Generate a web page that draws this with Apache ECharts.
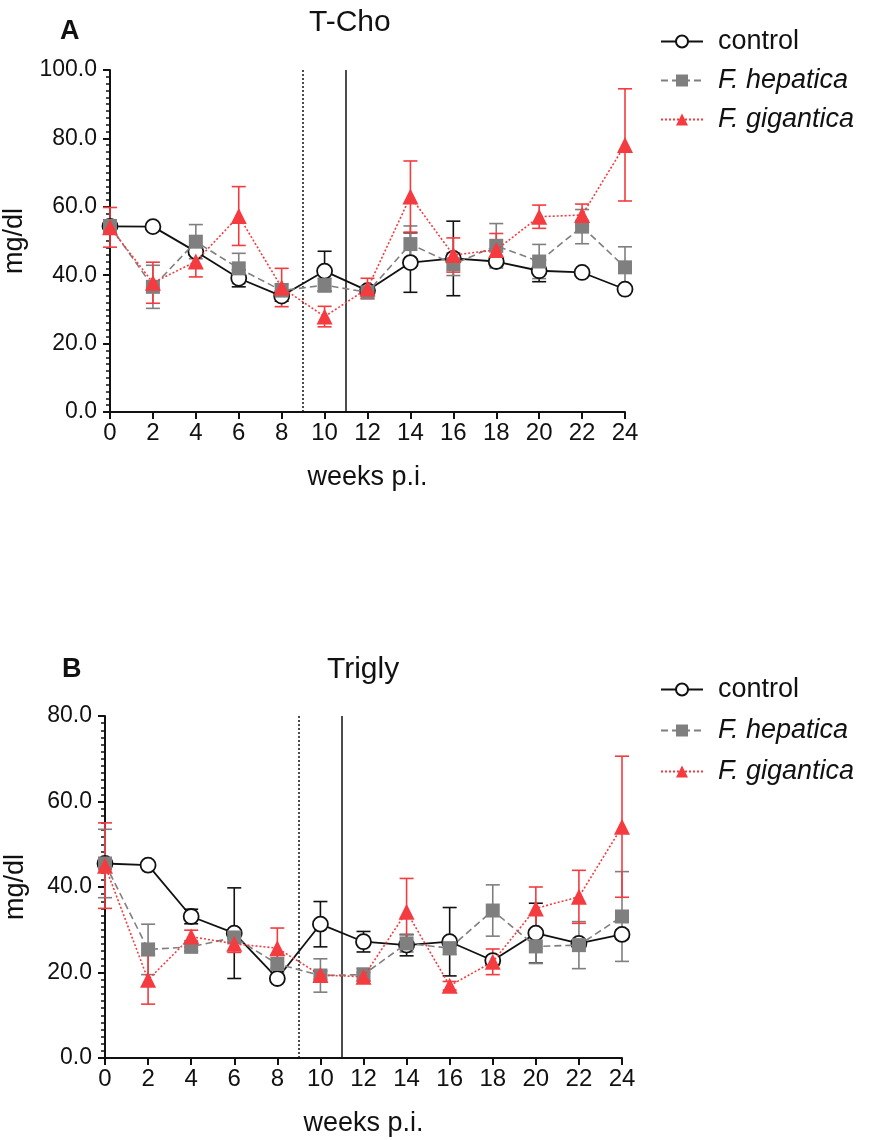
<!DOCTYPE html>
<html><head><meta charset="utf-8">
<script src="https://cdn.jsdelivr.net/npm/echarts@6/dist/echarts.min.js"></script>
<style>html,body{margin:0;padding:0;background:#fff}#c{width:869px;height:1140px}</style>
</head><body><div id="c"></div>
<script>
const weeks = [0,2,4,6,8,10,12,14,16,18,20,22,24];
const xTicks = [0,2,4,6,8,10,12,14,16,18,20,22,24];
const seriesNames = ['control','F. hepatica','F. gigantica'];

// Panel A: T-Cho (mg/dl)
const choControl    = [54.3,54.2,46.9,39.1,33.9,41.2,35.5,43.7,44.9,44.0,41.3,40.8,35.9];
const choControlSE  = [0.5,0.5,1.0,2.5,1.5,5.8,0.8,8.7,10.9,1.0,3.2,0.5,0.5];
const choHepatica   = [54.4,36.6,49.8,42.0,35.5,37.1,35.0,49.1,43.2,48.6,44.0,54.2,42.3];
const choHepaticaSE = [1.0,6.3,5.0,4.4,2.0,2.0,1.0,5.3,3.3,6.5,5.0,5.0,6.0];
const choGigantica  = [54.0,37.8,44.0,57.3,36.4,27.9,36.1,63.0,45.9,47.4,57.1,57.6,78.1];
const choGiganticaSE= [5.8,6.0,4.5,8.6,5.6,3.0,3.0,10.4,5.0,4.8,3.4,3.2,16.4];

// Panel B: Trigly (mg/dl)
const triControl    = [45.5,45.1,33.1,29.2,18.6,31.3,27.2,26.4,27.2,22.8,29.2,26.8,28.9];
const triControlSE  = [1.0,0.5,1.7,10.6,0.5,5.3,2.4,2.5,8.0,1.0,7.0,0.5,1.0];
const triHepatica   = [45.5,25.4,26.0,28.2,22.0,19.3,19.5,26.8,25.7,34.5,26.1,26.4,33.1];
const triHepaticaSE = [8.0,5.9,1.0,1.0,2.0,3.9,1.5,2.0,1.5,6.0,4.0,5.5,10.5];
const triGigantica  = [45.0,18.3,28.4,26.7,25.7,19.4,19.0,34.2,16.9,22.5,35.0,37.7,54.1];
const triGiganticaSE= [10.0,5.7,1.5,2.0,4.7,1.0,1.0,7.8,1.0,3.0,5.0,6.2,16.5];

const C_BLACK = '#111';
const C_GREY = '#7f7f7f';
const C_RED = '#f43b3f';
const FONT = 'Liberation Sans, Arial, sans-serif';

function pairs(vals){ return weeks.map((w,i)=>[w, vals[i]]); }
function errs(vals, se){ return weeks.map((w,i)=>[w, vals[i]-se[i], vals[i]+se[i]]); }

function errRender(color){
  return function(params, api){
    const x = api.value(0), lo = api.value(1), hi = api.value(2);
    const a = api.coord([x, lo]), b = api.coord([x, hi]);
    const w = 7;
    const st = {stroke: color, lineWidth: 1.6};
    return {type:'group', children:[
      {type:'line', shape:{x1:a[0],y1:a[1],x2:b[0],y2:b[1]}, style:st},
      {type:'line', shape:{x1:a[0]-w,y1:a[1],x2:a[0]+w,y2:a[1]}, style:st},
      {type:'line', shape:{x1:b[0]-w,y1:b[1],x2:b[0]+w,y2:b[1]}, style:st}
    ]};
  };
}

const styles = [
  {color:C_BLACK, symbol:'circle', size:15, line:{color:C_BLACK,width:1.8,type:'solid'}, item:{color:'#fff',borderColor:C_BLACK,borderWidth:1.8}},
  {color:C_GREY, symbol:'rect', size:14, line:{color:C_GREY,width:1.6,type:[7,4]}, item:{color:C_GREY,borderColor:C_GREY,borderWidth:0}},
  {color:C_RED, symbol:'triangle', size:16, line:{color:C_RED,width:1.6,type:[2,2]}, item:{color:C_RED,borderColor:C_RED,borderWidth:0}}
];

function buildSeries(gi, means, ses){
  const out = [];
  means.forEach((m, k)=>{
    const s = {
      type:'line', name: seriesNames[k], xAxisIndex:gi, yAxisIndex:gi,
      data: pairs(m), symbol: styles[k].symbol, symbolSize: styles[k].size,
      showAllSymbol:true, lineStyle: styles[k].line, itemStyle: styles[k].item,
      color: styles[k].color, z: 5 + k, animation:false
    };
    if (k === 0) {
      s.markLine = {
        silent:true, symbol:'none', label:{show:false}, animation:false,
        data:[
          {xAxis:9, lineStyle:{color:C_BLACK, type:[2,2], width:1.5}},
          {xAxis:11, lineStyle:{color:C_BLACK, type:'solid', width:1.5}}
        ]
      };
    }
    out.push(s);
  });
  means.forEach((m, k)=>{
    out.push({
      type:'custom', name: seriesNames[k] + ' SE', xAxisIndex:gi, yAxisIndex:gi,
      renderItem: errRender(styles[k].color), data: errs(m, ses[k]),
      encode:{x:0, y:[1,2]}, z: 2 + k, silent:true
    });
  });
  return out;
}

function xAxisDef(gi){
  return {
    type:'value', gridIndex:gi, min:0, max:24, interval:2,
    axisLine:{show:true, lineStyle:{color:C_BLACK, width:2}},
    axisTick:{show:true, inside:false, length:7, lineStyle:{color:C_BLACK, width:2}},
    axisLabel:{color:'#111', fontSize:24, fontFamily:FONT, margin:9,
      formatter: v => xTicks.includes(v) ? String(v) : ''},
    splitLine:{show:false},
    name:'weeks p.i.', nameLocation:'middle', nameGap:52,
    nameTextStyle:{color:'#111', fontSize:27, fontFamily:FONT}
  };
}
function yAxisDef(gi, max, minorSplit){
  return {
    type:'value', gridIndex:gi, min:0, max:max, interval:20,
    axisLine:{show:true, lineStyle:{color:C_BLACK, width:2}},
    axisTick:{show:true, inside:false, length:7, lineStyle:{color:C_BLACK, width:2}},
    minorTick:{show:true, splitNumber:minorSplit, length:4, lineStyle:{color:C_BLACK, width:1.5}},
    axisLabel:{color:'#111', fontSize:23, fontFamily:FONT, margin:13, formatter: v => v.toFixed(1)},
    splitLine:{show:false},
    name:'mg/dl', nameLocation:'middle', nameGap:76, nameRotate:90,
    nameTextStyle:{color:'#111', fontSize:27, fontFamily:FONT}
  };
}

function legendDef(top, gap){
  return {
    orient:'vertical', left:655, top:top, itemWidth:42, itemHeight:15, itemGap:gap,
    data: seriesNames.map(n => ({name:n})),
    formatter: n => n === 'control' ? n : '{i|' + n + '}',
    textStyle:{color:'#111', fontSize:27, fontFamily:FONT, padding:[0,0,0,10],
      rich:{i:{fontStyle:'italic', fontSize:27, fontFamily:FONT, color:'#111'}}},
    selectedMode:false
  };
}

const chart = echarts.init(document.getElementById('c'), null, {renderer:'canvas'});
chart.setOption({
  backgroundColor:'#fff',
  animation:false,
  grid:[
    {left:110, top:70, width:515, height:342, outerBoundsMode:'none', containLabel:false},
    {left:105, top:716, width:517, height:342, outerBoundsMode:'none', containLabel:false}
  ],
  xAxis:[xAxisDef(0), xAxisDef(1)],
  yAxis:[yAxisDef(0,100,10), yAxisDef(1,80,12)],
  legend:[legendDef(23, 12), legendDef(671, 14)],
  graphic:[
    {type:'text', left:60, top:18, style:{text:'A', font:'bold 27px Liberation Sans, Arial, sans-serif', fill:'#111'}},
    {type:'text', left:309, top:8, style:{text:'T-Cho', font:'30px Liberation Sans, Arial, sans-serif', fill:'#111'}},
    {type:'text', left:62, top:656, style:{text:'B', font:'bold 27px Liberation Sans, Arial, sans-serif', fill:'#111'}},
    {type:'text', left:327, top:655, style:{text:'Trigly', font:'30px Liberation Sans, Arial, sans-serif', fill:'#111'}}
  ],
  series: [].concat(
    buildSeries(0, [choControl, choHepatica, choGigantica], [choControlSE, choHepaticaSE, choGiganticaSE]),
    buildSeries(1, [triControl, triHepatica, triGigantica], [triControlSE, triHepaticaSE, triGiganticaSE])
  )
});
</script></body></html>
